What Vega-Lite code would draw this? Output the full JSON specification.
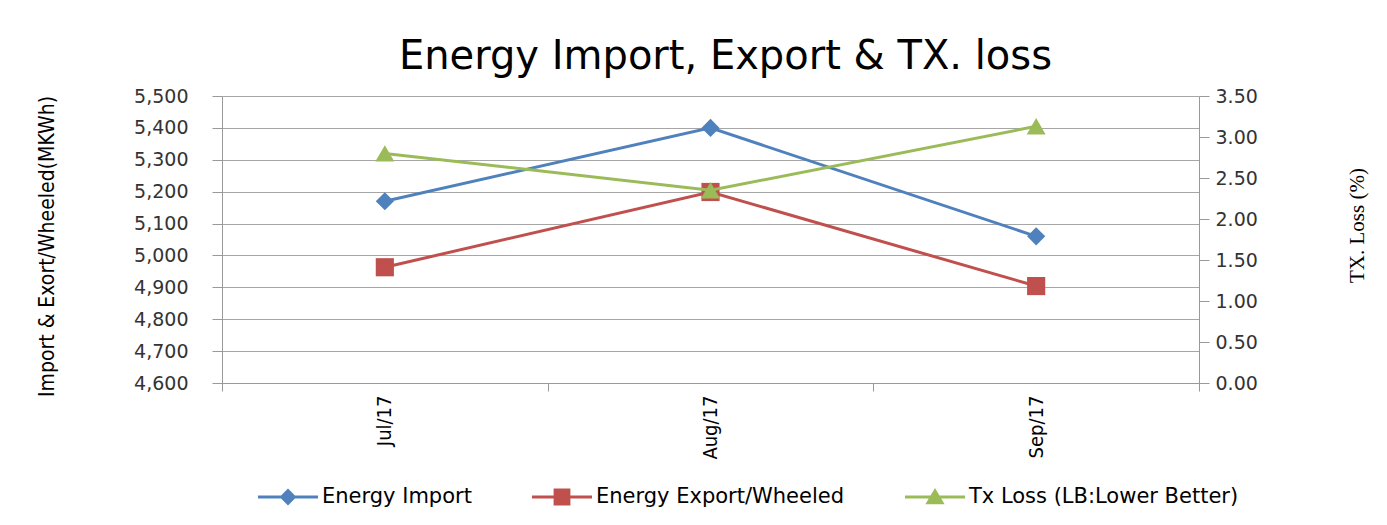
{
  "$schema": "https://vega.github.io/schema/vega-lite/v6.json",
  "autosize": {"type": "none"},
  "width": 977,
  "height": 287,
  "padding": {"left": 222, "top": 96, "right": 188, "bottom": 142},
  "background": "white",
  "title": {
    "text": "Energy Import, Export & TX. loss",
    "font": "DejaVu Sans",
    "fontSize": 40,
    "fontWeight": "normal",
    "color": "black",
    "offset": 10,
    "dx": 15
  },
  "data": {
    "values": [
      {"month": "Jul/17", "series": "Energy Import", "value": 5170},
      {"month": "Aug/17", "series": "Energy Import", "value": 5400},
      {"month": "Sep/17", "series": "Energy Import", "value": 5060},
      {"month": "Jul/17", "series": "Energy Export/Wheeled", "value": 4963},
      {"month": "Aug/17", "series": "Energy Export/Wheeled", "value": 5199},
      {"month": "Sep/17", "series": "Energy Export/Wheeled", "value": 4904},
      {"month": "Jul/17", "series": "Tx Loss (LB:Lower Better)", "value": 2.8},
      {"month": "Aug/17", "series": "Tx Loss (LB:Lower Better)", "value": 2.35},
      {"month": "Sep/17", "series": "Tx Loss (LB:Lower Better)", "value": 3.13}
    ]
  },
  "encoding": {
    "x": {
      "field": "month",
      "type": "nominal",
      "sort": ["Jul/17", "Aug/17", "Sep/17"],
      "scale": {"paddingInner": 0, "paddingOuter": 0},
      "axis": {
        "title": null,
        "labelAngle": -90,
        "labelFont": "DejaVu Sans Condensed",
        "labelFontSize": 20,
        "labelColor": "black",
        "labelPadding": 4,
        "tickBand": "extent",
        "tickSize": 8,
        "tickColor": "#999999",
        "domainColor": "#999999",
        "grid": false
      }
    },
    "color": {
      "field": "series",
      "type": "nominal",
      "scale": {
        "domain": ["Energy Import", "Energy Export/Wheeled", "Tx Loss (LB:Lower Better)"],
        "range": ["#4F81BD", "#C0504D", "#9BBB59"]
      },
      "legend": {
        "title": null,
        "orient": "none",
        "direction": "horizontal",
        "legendX": 36,
        "legendY": 371,
        "symbolSize": 3600,
        "symbolType": {"expr": "datum.value == 'Energy Import' ? 'M-1,-0.05H1V0.05H-1Z M0,-0.28L0.28,0L0,0.28L-0.28,0Z' : datum.value == 'Energy Export/Wheeled' ? 'M-1,-0.05H1V0.05H-1Z M-0.28,-0.28H0.28V0.28H-0.28Z' : 'M-1,-0.05H1V0.05H-1Z M0,-0.3L0.32,0.24H-0.32Z'"},
        "symbolStrokeWidth": 0,
        "symbolOpacity": 1,
        "labelFont": "DejaVu Sans",
        "labelFontSize": 21,
        "labelColor": "black",
        "labelOffset": 4,
        "labelLimit": 0,
        "columnPadding": 60
      }
    }
  },
  "layer": [
    {
      "transform": [{"filter": "datum.series != 'Tx Loss (LB:Lower Better)'"}],
      "encoding": {
        "y": {
          "field": "value",
          "type": "quantitative",
          "scale": {"domain": [4600, 5500], "zero": false, "nice": false},
          "axis": {
            "title": "Import &  Exort/Wheeled(MKWh)",
            "titleFont": "DejaVu Sans Condensed",
            "titleFontSize": 21,
            "titleFontWeight": "normal",
            "titleColor": "black",
            "titlePadding": 76,
            "titleY": 150,
            "values": [4600, 4700, 4800, 4900, 5000, 5100, 5200, 5300, 5400, 5500],
            "format": ",.0f",
            "labelFont": "DejaVu Sans",
            "labelFontSize": 19,
            "labelColor": "#333333",
            "labelPadding": 24,
            "tickSize": 10,
            "tickColor": "#999999",
            "domainColor": "#999999",
            "grid": true,
            "gridColor": "#A6A6A6",
            "gridWidth": 1
          }
        }
      },
      "layer": [
        {"mark": {"type": "line", "strokeWidth": 3}},
        {
          "transform": [{"filter": "datum.series == 'Energy Import'"}],
          "mark": {"type": "point", "shape": "diamond", "filled": true, "opacity": 1, "size": 330}
        },
        {
          "transform": [{"filter": "datum.series == 'Energy Export/Wheeled'"}],
          "mark": {"type": "point", "shape": "square", "filled": true, "opacity": 1, "size": 330}
        }
      ]
    },
    {
      "transform": [{"filter": "datum.series == 'Tx Loss (LB:Lower Better)'"}],
      "encoding": {
        "y": {
          "field": "value",
          "type": "quantitative",
          "scale": {"domain": [0, 3.5], "nice": false},
          "axis": {
            "orient": "right",
            "title": "TX. Loss (%)",
            "titleFont": "Liberation Serif",
            "titleFontSize": 21,
            "titleFontWeight": "normal",
            "titleColor": "black",
            "titleAngle": 270,
            "titlePadding": 110,
            "titleY": 129,
            "values": [0, 0.5, 1, 1.5, 2, 2.5, 3, 3.5],
            "format": ".2f",
            "labelFont": "DejaVu Sans",
            "labelFontSize": 19,
            "labelColor": "#333333",
            "labelPadding": 6,
            "tickSize": 10,
            "tickColor": "#999999",
            "domainColor": "#999999",
            "grid": false
          }
        }
      },
      "layer": [
        {"mark": {"type": "line", "strokeWidth": 3}},
        {
          "mark": {"type": "point", "shape": "triangle-up", "filled": true, "opacity": 1, "size": 360}
        }
      ]
    }
  ],
  "resolve": {"scale": {"y": "independent"}},
  "config": {"view": {"stroke": null}}
}
